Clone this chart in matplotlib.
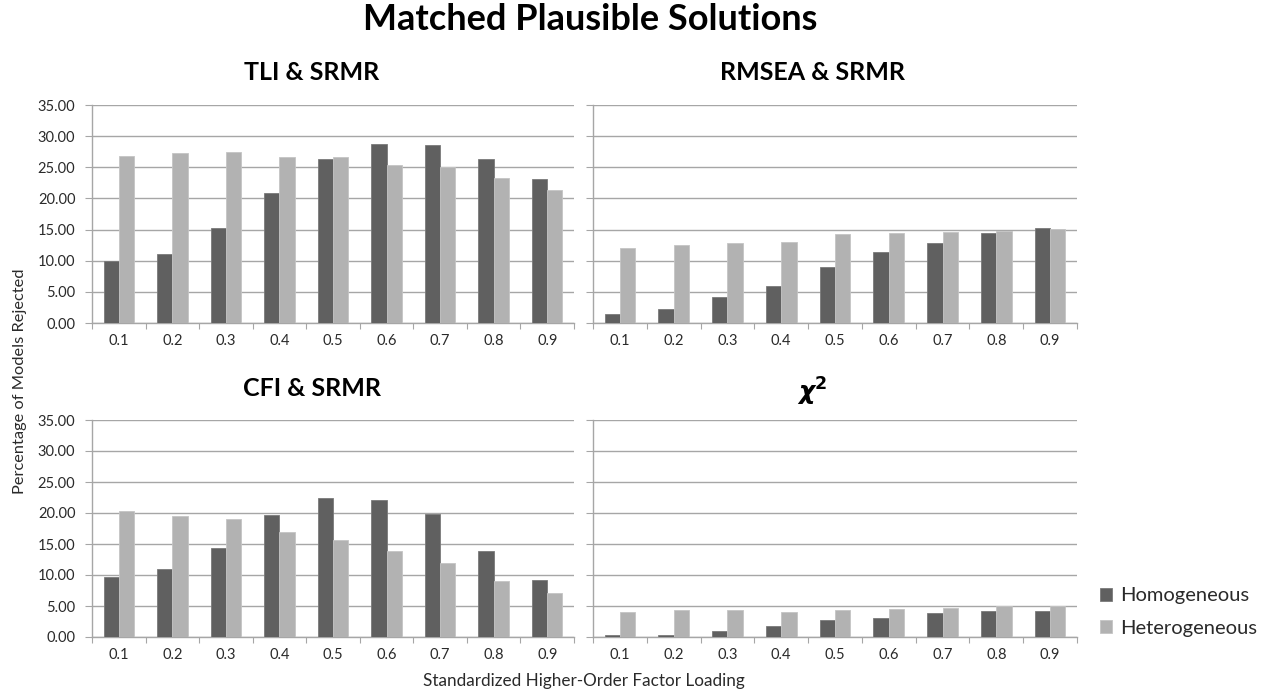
import matplotlib
matplotlib.use("Agg")
import matplotlib.pyplot as plt
import numpy as np

plt.rcParams['font.family'] = ['Lato', 'DejaVu Sans']

loadings = ["0.1", "0.2", "0.3", "0.4", "0.5", "0.6", "0.7", "0.8", "0.9"]
series_names = ["Homogeneous", "Heterogeneous"]

tli_homog = [10.0, 11.1, 15.2, 20.8, 26.4, 28.7, 28.5, 26.4, 23.1]
tli_heter = [26.8, 27.3, 27.5, 26.6, 26.6, 25.4, 25.0, 23.3, 21.3]

rmsea_homog = [1.4, 2.3, 4.2, 5.9, 9.0, 11.4, 12.8, 14.4, 15.3]
rmsea_heter = [12.1, 12.6, 12.8, 13.0, 14.3, 14.4, 14.6, 14.8, 15.1]

cfi_homog = [9.7, 11.0, 14.3, 19.6, 22.4, 22.1, 19.8, 13.8, 9.2]
cfi_heter = [20.3, 19.5, 19.1, 17.0, 15.6, 13.8, 11.9, 9.0, 7.1]

chi_homog = [0.4, 0.4, 0.9, 1.8, 2.7, 3.0, 3.9, 4.2, 4.2]
chi_heter = [4.1, 4.3, 4.3, 4.1, 4.3, 4.5, 4.7, 5.0, 5.0]

panel_titles = ["TLI & SRMR", "RMSEA & SRMR", "CFI & SRMR", r"$\boldsymbol{\chi}^{\mathbf{2}}$"]
yticks = [0, 5, 10, 15, 20, 25, 30, 35]

dark = "#606060"
light = "#b2b2b2"
grid_c = "#a6a6a6"
text_c = "#2a2a2a"

W, H = 1267, 694
fig = plt.figure(figsize=(W / 100, H / 100), dpi=100)


def px_axes(left, top, right, bottom):
    return fig.add_axes([left / W, 1 - bottom / H, (right - left) / W, (bottom - top) / H])


boxes = [(92, 105, 574, 323), (593, 105, 1077, 323),
         (92, 420, 574, 637), (593, 420, 1077, 637)]
data = [(tli_homog, tli_heter), (rmsea_homog, rmsea_heter),
        (cfi_homog, cfi_heter), (chi_homog, chi_heter)]
title_pos = [(312, 73), (812, 73), (312, 388), (812, 392)]

x = np.arange(len(loadings))
bw = 0.285
handles = None
for i, (box, (hom, het)) in enumerate(zip(boxes, data)):
    ax = px_axes(*box)
    b1 = ax.bar(x - bw / 2, hom, bw, color=dark, edgecolor="#7a7a7a", linewidth=0.6, zorder=3)
    b2 = ax.bar(x + bw / 2, het, bw, color=light, edgecolor="#c4c4c4", linewidth=0.6, zorder=3)
    handles = (b1, b2)
    ax.set_xlim(-0.5, len(loadings) - 0.5)
    ax.set_ylim(0, 35)
    ax.set_yticks(yticks)
    ax.yaxis.grid(True, color=grid_c, linewidth=1.0, zorder=0)
    ax.set_axisbelow(True)
    for s in ["top", "right"]:
        ax.spines[s].set_visible(False)
    for s in ["left", "bottom"]:
        ax.spines[s].set_color(grid_c)
        ax.spines[s].set_linewidth(1.0)
    ax.set_xticks(np.arange(len(loadings) + 1) - 0.5)
    ax.set_xticklabels([])
    ax.set_xticks(x, minor=True)
    ax.set_xticklabels(loadings, minor=True)
    ax.tick_params(axis="x", which="major", length=4, color=grid_c, direction="out")
    ax.tick_params(axis="x", which="minor", length=0, labelsize=10.5, labelcolor=text_c, pad=8)
    ax.tick_params(axis="y", length=5, color=grid_c, labelsize=10.5, labelcolor=text_c, pad=7)
    if i % 2 == 0:
        ax.set_yticklabels([f"{v:.2f}" for v in yticks])
    else:
        ax.set_yticklabels([])
    tx, ty = title_pos[i]
    fig.text(tx / W, 1 - ty / H, panel_titles[i], ha="center", va="center",
             fontsize=18, fontweight="bold", color="black")

fig.text(590 / W, 1 - 20 / H, "Matched Plausible Solutions", ha="center", va="center",
         fontsize=26, fontweight="bold", color="black")
fig.text(20 / W, 1 - 381 / H, "Percentage of Models Rejected", rotation=90,
         ha="center", va="center", fontsize=11.8, color=text_c)
fig.text(584 / W, 1 - 681 / H, "Standardized Higher-Order Factor Loading",
         ha="center", va="center", fontsize=12.3, color=text_c)

fig.legend(handles, series_names, loc="center left",
           bbox_to_anchor=(1082 / W, 1 - 612 / H), frameon=False,
           fontsize=14.5, handlelength=0.6, handleheight=0.6, handletextpad=0.4,
           labelspacing=0.75, labelcolor=text_c)

fig.savefig("out.png", dpi=100)
